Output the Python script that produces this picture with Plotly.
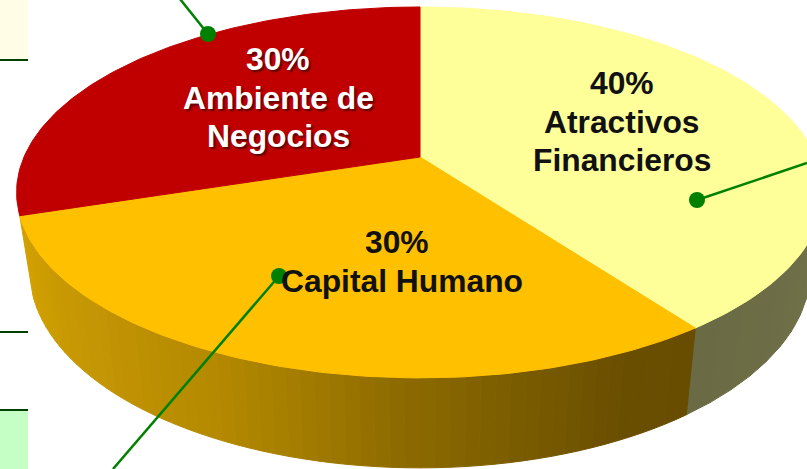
import numpy as np
import plotly.graph_objects as go

# Data
labels = [["Atractivos", "Financieros"], ["Capital Humano"], ["Ambiente de", "Negocios"]]
values = [40, 30, 30]
top_colors = ["#FFFF99", "#FFC000", "#C00000"]

# Side shading (position along the slice, colour)
side_stops = [
    [(0.00, "#74744C"), (1.00, "#6A6A44")],
    [(0.00, "#684C00"), (0.10, "#6B4F00"), (0.22, "#7A5C00"), (0.36, "#8F6C00"),
     (0.49, "#A88000"), (0.57, "#B58A00"), (0.75, "#C49505"), (1.00, "#D3A200")],
    None,
]

# Perspective of the pie disc
W, H = 807, 469
CX = 420
K = 0.191
TOP_A, TOP_B, TOP_Y0 = 396, 178.7, 157
BOT_A, BOT_B, BOT_Y0 = 383, 190, 233


def project(theta, a, b, y0):
    u, v = np.sin(theta), -np.cos(theta)
    d = 1 - K * v
    return CX + a * u / d, y0 + b * v / d


def hex_rgb(c):
    return np.array([int(c[i:i + 2], 16) for i in (1, 3, 5)], dtype=float)


def shade(stops, t):
    ts = [s[0] for s in stops]
    cs = np.array([hex_rgb(s[1]) for s in stops])
    rgb = [np.interp(t, ts, cs[:, i]) for i in range(3)]
    return "rgb(%d,%d,%d)" % tuple(rgb)


fig = go.Figure()
fracs = np.cumsum([0] + values) / sum(values) * 2 * np.pi

# Slice walls
for i, stops in enumerate(side_stops):
    if stops is None:
        continue
    start, end = fracs[i], fracs[i + 1]
    if i == 0:
        start = max(start, end - 0.9)
    n = 12 if i == 0 else 60
    edges = np.linspace(start, end, n + 1)
    for j in range(n):
        th = np.linspace(edges[j], edges[j + 1], 4)
        x1, y1 = project(th, TOP_A, TOP_B, TOP_Y0)
        x2, y2 = project(th[::-1], BOT_A, BOT_B, BOT_Y0)
        col = shade(stops, (j + 0.5) / n)
        fig.add_trace(go.Scatter(
            x=np.r_[x1, x2, x1[0]], y=np.r_[y1, y2, y1[0]],
            mode="lines", fill="toself", fillcolor=col,
            line=dict(color=col, width=1), hoverinfo="skip", showlegend=False))

# Slice tops
for i, col in enumerate(top_colors):
    th = np.linspace(fracs[i], fracs[i + 1], 120)
    x, y = project(th, TOP_A, TOP_B, TOP_Y0)
    fig.add_trace(go.Scatter(
        x=np.r_[CX, x, CX], y=np.r_[TOP_Y0, y, TOP_Y0],
        mode="lines", fill="toself", fillcolor=col,
        line=dict(color=col, width=1), hoverinfo="skip", showlegend=False))

# Leader lines with their dots
leader_x = [[180, 208], [113, 279], [807, 697]]
leader_y = [[-1, 34], [469, 276], [163, 200]]
for lx, ly in zip(leader_x, leader_y):
    fig.add_trace(go.Scatter(
        x=lx, y=ly, mode="lines", line=dict(color="#008000", width=2.5),
        hoverinfo="skip", showlegend=False))
    fig.add_trace(go.Scatter(
        x=lx[1:], y=ly[1:], mode="markers", marker=dict(color="#008000", size=16),
        hoverinfo="skip", showlegend=False))

# Background panels at the left edge
shapes = [
    dict(type="rect", x0=0, x1=28, y0=-2, y1=60, fillcolor="#FFFDE6", line_width=0, layer="below"),
    dict(type="rect", x0=0, x1=28, y0=410, y1=471, fillcolor="#C6FFC6", line_width=0, layer="below"),
    dict(type="line", x0=0, x1=28, y0=60, y1=60, line=dict(color="#004000", width=2), layer="below"),
    dict(type="line", x0=0, x1=28, y0=332, y1=332, line=dict(color="#004000", width=2), layer="below"),
    dict(type="line", x0=0, x1=28, y0=410, y1=410, line=dict(color="#004000", width=2), layer="below"),
]

# Labels: one entry per text line (x, y, text)
text_items = [
    ([622, 622, 622], [83, 121.5, 160], [f"{values[0]}%"] + labels[0], "#111111", "none"),
    ([397, 402], [242, 280.5], [f"{values[1]}%"] + labels[1], "#111111", "none"),
    ([278, 278, 278], [59, 97.5, 136], [f"{values[2]}%"] + labels[2], "#FFFFFF", "2px 2px 2px #5A0000"),
]
annotations = []
for xs, ys, lines, c, s in text_items:
    for x, y, t in zip(xs, ys, lines):
        annotations.append(dict(
            x=x, y=y, text=t, showarrow=False, xanchor="center", yanchor="middle",
            font=dict(family="Liberation Sans", size=31.8, color=c, weight="bold", shadow=s)))

fig.update_layout(
    width=W, height=H, margin=dict(l=0, r=0, t=0, b=0),
    paper_bgcolor="white", plot_bgcolor="white", showlegend=False,
    xaxis=dict(range=[0, W], visible=False, fixedrange=True),
    yaxis=dict(range=[H, 0], visible=False, fixedrange=True),
    shapes=shapes, annotations=annotations,
)

fig.write_html("out.html", config={"displayModeBar": False},
               post_script="document.body.style.margin='0';document.body.style.overflow='hidden';")
